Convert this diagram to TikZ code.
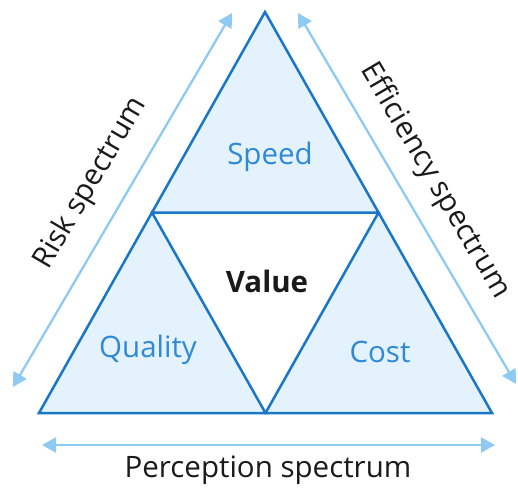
\documentclass[tikz,border=0pt]{standalone}
\usepackage{fontspec}
\setmainfont{Open Sans}
\usetikzlibrary{arrows.meta}
\definecolor{edge}{HTML}{1A76C6}
\definecolor{fillblue}{HTML}{E3F2FD}
\definecolor{labelblue}{HTML}{2F89D6}
\definecolor{arrowblue}{HTML}{8FCAF2}
\definecolor{txt}{HTML}{1A1A1A}
\tikzset{
  tri/.style={draw=edge,line width=2.5pt,line join=miter},
  part/.style={font=\fontsize{29.5}{34}\selectfont,text=labelblue,inner sep=0pt},
  spec/.style={font=\fontsize{29.5}{34}\selectfont,text=txt,inner sep=0pt},
  specarrow/.style={draw=arrowblue,line width=2.3pt,{Triangle[length=14pt,width=15pt]}-{Triangle[length=14pt,width=15pt]}},
}
\begin{document}
\begin{tikzpicture}[x=1pt,y=-1pt]
\useasboundingbox (0,0) rectangle (518,488);
\coordinate (A) at (265,12);
\coordinate (BL) at (39,413);
\coordinate (BR) at (492,413);
\coordinate (ML) at (152,212.5);
\coordinate (MR) at (378.5,212.5);
\coordinate (MB) at (265.5,413);
\fill[white] (A) -- (BL) -- (BR) -- cycle;
\filldraw[tri,fill=fillblue] (A) -- (ML) -- (MR) -- cycle;
\filldraw[tri,fill=fillblue] (ML) -- (BL) -- (MB) -- cycle;
\filldraw[tri,fill=fillblue] (MR) -- (MB) -- (BR) -- cycle;
\node[part] (speed) at (270,157) {Speed};
\node[part] (quality) at (148,350) {Quality};
\node[part] (cost) at (380,352) {Cost};
\node[spec,font=\fontsize{29.5}{34}\selectfont\bfseries] (value) at (267,281) {Value};
\coordinate (rl1) at (13,387);
\coordinate (rl2) at (232,13);
\coordinate (rr1) at (298,13);
\coordinate (rr2) at (516,384);
\coordinate (pb1) at (42,445);
\coordinate (pb2) at (495,445);
\draw[specarrow] (rl1) -- (rl2);
\draw[specarrow] (rr1) -- (rr2);
\draw[specarrow] (pb1) -- (pb2);
\node[spec] (perc) at (268,470) {Perception spectrum};
\node[spec,rotate=59.6] (risk) at (91,183) {Risk spectrum};
\node[spec,rotate=-59.5] (eff) at (435,181) {Efficiency spectrum};
\end{tikzpicture}
\end{document}
